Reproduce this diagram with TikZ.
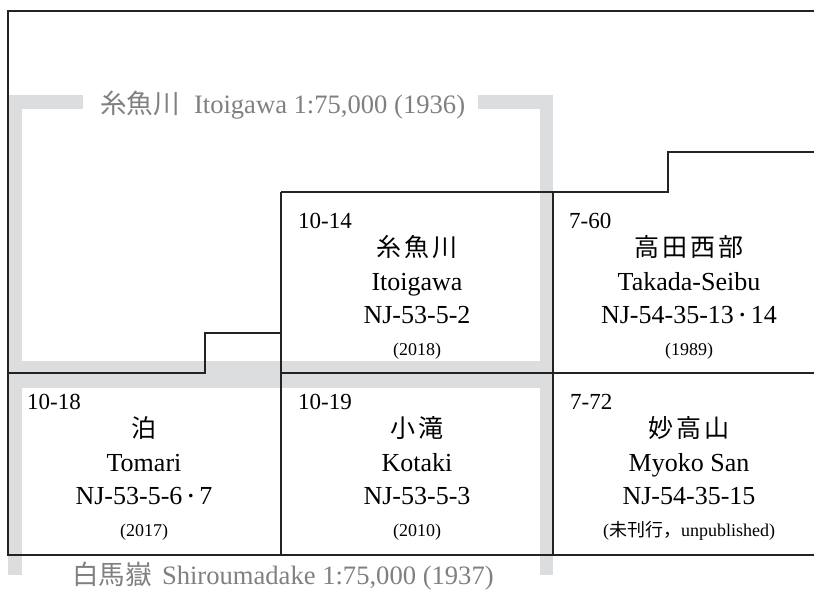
\documentclass[tikz,border=0pt]{standalone}
\usepackage{fontspec}
\setmainfont{Liberation Serif}
\newfontfamily\cjk{Noto Sans CJK JP}
\newcommand\jsp{\hspace{3pt}}
\newcommand\mdot{\raisebox{2pt}{\fontsize{17}{17}\selectfont\cjk ・}}
\definecolor{band}{RGB}{220,221,223}
\definecolor{labelgray}{RGB}{128,128,128}
\definecolor{linec}{RGB}{35,35,35}
\tikzset{
  sheet/.style={draw=linec, line width=1.2pt, line join=miter},
  bandfill/.style={fill=band},
  num/.style={anchor=base west, font=\fontsize{23}{27}\selectfont, inner sep=0pt},
  jname/.style={anchor=base, font=\fontsize{25}{30}\selectfont\cjk, inner sep=0pt},
  lname/.style={anchor=base, font=\fontsize{26}{30}\selectfont, inner sep=0pt},
  yr/.style={anchor=base, font=\fontsize{18}{22}\selectfont, inner sep=0pt},
  glabel/.style={anchor=base west, text=labelgray, font=\fontsize{26.6}{30}\selectfont, inner sep=0pt}
}
\begin{document}
\begin{tikzpicture}[x=1pt,y=-1pt]
\useasboundingbox (0,0) rectangle (814,590);
% gray frames of the 1:75,000 sheets
\fill[bandfill] (8,95) rectangle (83,108.5);
\fill[bandfill] (478,95) rectangle (553,108.5);
\fill[bandfill] (8,95) rectangle (21.5,374);
\fill[bandfill] (539.5,95) rectangle (553,374);
\fill[bandfill] (8,360.5) rectangle (553,387.5);
\fill[bandfill] (8,374) rectangle (21.5,575);
\fill[bandfill] (539.5,374) rectangle (553,575);
% sheet outlines
\draw[sheet] (814,11) -- (8,11) -- (8,555) -- (814,555);
\draw[sheet] (8,373) -- (205,373) -- (205,333) -- (281,333);
\draw[sheet] (281,192) -- (281,555);
\draw[sheet] (281,373) -- (814,373);
\draw[sheet] (281,192) -- (668,192) -- (668,152) -- (814,152);
\draw[sheet] (553,192) -- (553,555);
% labels of the old sheets
\node[glabel] (itoold) at (100,113) {{\cjk 糸魚川}\hspace{14pt}Itoigawa 1:75,000 (1936)};
\node[glabel] (shiro) at (72,584) {{\cjk 白馬嶽}\hspace{10pt}Shiroumadake 1:75,000 (1937)};
% Itoigawa cell
\node[num] (n1) at (298,228) {10-14};
\node[jname] (j1) at (417,256) {糸\jsp 魚\jsp 川};
\node[lname] (l1) at (417,290) {Itoigawa};
\node[lname] (c1) at (417,323) {NJ-53-5-2};
\node[yr] (y1) at (417,355) {(2018)};
% Takada-Seibu cell
\node[num] (n2) at (569,228) {7-60};
\node[jname] (j2) at (689,256) {高\jsp 田\jsp 西\jsp 部};
\node[lname] (l2) at (689,290) {Takada-Seibu};
\node[lname] (c2) at (689,323) {NJ-54-35-13\mdot 14};
\node[yr] (y2) at (689,355) {(1989)};
% Tomari cell
\node[num] (n3) at (27,409) {10-18};
\node[jname] (j3) at (144,437) {泊};
\node[lname] (l3) at (144,471) {Tomari};
\node[lname] (c3) at (144,504) {NJ-53-5-6\mdot 7};
\node[yr] (y3) at (144,536) {(2017)};
% Kotaki cell
\node[num] (n4) at (298,409) {10-19};
\node[jname] (j4) at (417,437) {小\jsp 滝};
\node[lname] (l4) at (417,471) {Kotaki};
\node[lname] (c4) at (417,504) {NJ-53-5-3};
\node[yr] (y4) at (417,536) {(2010)};
% Myoko San cell
\node[num] (n5) at (570,409) {7-72};
\node[jname] (j5) at (689,437) {妙\jsp 高\jsp 山};
\node[lname] (l5) at (689,471) {Myoko San};
\node[lname] (c5) at (689,504) {NJ-54-35-15};
\node[yr] (y5) at (689,536) {({\cjk 未刊行，}unpublished)};
\end{tikzpicture}
\end{document}
